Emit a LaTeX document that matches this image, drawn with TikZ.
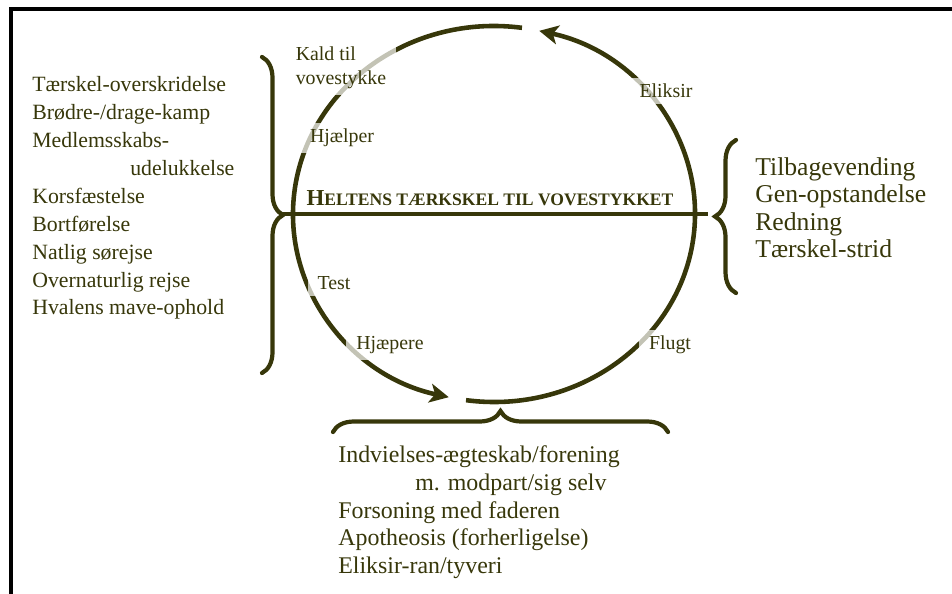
\documentclass[tikz,border=0pt]{standalone}
\usepackage{fontspec}
\setmainfont{Liberation Serif}
\usetikzlibrary{arrows.meta,decorations.pathreplacing}
\definecolor{heroolive}{RGB}{55,55,10}
\begin{document}
\begin{tikzpicture}[x=0.02cm,y=0.02cm,
  every node/.style={text=heroolive},
  list/.style={anchor=north west,inner sep=0pt,align=left,font=\fontsize{13.6}{15.9}\selectfont},
  stage/.style={fill=white,fill opacity=0.7,text opacity=1,inner xsep=0.2cm,inner ysep=0.12cm,align=left,font=\fontsize{11.3}{13.6}\selectfont},
  cycle/.style={draw=heroolive,line width=2.6pt},
  bracket/.style={draw=heroolive,line width=2.4pt,line cap=round,decorate,decoration={brace,amplitude=0.42cm}}]
		\newcommand{\capsc}[1]{{\fontsize{10}{14}\selectfont #1}}
		\useasboundingbox (0,0) rectangle (952,-594);
		\draw[line width=0.08cm] (952,-9) -- (11,-9) -- (11,-594);
		% the hero's cycle
		\coordinate (c) at (494,-214);
		\draw[cycle,-{Stealth[length=0.38cm,width=0.38cm,inset=0.1cm]}] (c) ++(82:201 and 188)
			arc[start angle=82,end angle=257,x radius=201,y radius=188];
		\draw[cycle,-{Stealth[length=0.38cm,width=0.38cm,inset=0.1cm]}] (c) ++(262:201 and 188)
			arc[start angle=262,end angle=437,x radius=201,y radius=188];
		\coordinate (lefttip) at (283,-214);
		\coordinate (righttip) at (708,-214);
		\draw[heroolive,line width=0.08cm] (lefttip) -- (righttip);
		\node[anchor=base,font=\bfseries] (threshold) at (490,-206)
			{{\fontsize{13}{14}\selectfont H}\capsc{ELTENS TÆRKSKEL TIL VOVESTYKKET}};
		% labels on the circle
		\node[stage] (call) at (341,-68) {Kald til\\vovestykke};
		\node[stage] (elixir) at (666,-91) {Eliksir};
		\node[stage] (helper) at (342,-138) {Hjælper};
		\node[stage] (test) at (334,-283) {Test};
		\node[stage] (helpers) at (390,-345) {Hjæpere};
		\node[stage] (flight) at (670,-345) {Flugt};
		% braces and lists
		\draw[bracket] (262,-57) -- (262,-373);
		\draw[bracket] (736,-293) -- (736,-140);
		\draw[bracket] (333,-432) -- (668,-432);
		\node[list,font=\fontsize{12.4}{15.9}\selectfont] (rites) at (32,-76) {Tærskel-overskridelse\\Brødre-/drage-kamp\\Medlemsskabs-\\\hspace*{1.96cm}udelukkelse\\Korsfæstelse\\Bortførelse\\Natlig sørejse\\Overnaturlig rejse\\Hvalens mave-ophold};
		\node[list,font=\fontsize{14.6}{15.7}\selectfont] (return) at (755,-157) {Tilbagevending\\Gen-opstandelse\\Redning\\Tærskel-strid};
		\node[list] (union) at (338,-445) {Indvielses-ægteskab/forening\\\hspace*{1.54cm}m. modpart/sig selv\\Forsoning med faderen\\Apotheosis (forherligelse)\\Eliksir-ran/tyveri};
\end{tikzpicture}
\end{document}
